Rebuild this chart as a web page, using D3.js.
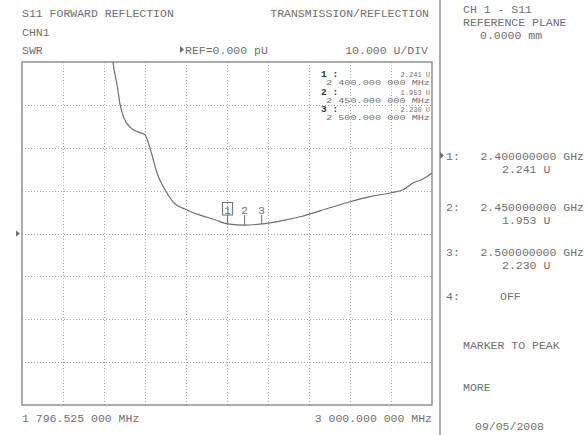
<!DOCTYPE html>
<html><head><meta charset="utf-8">
<script src="https://cdn.jsdelivr.net/npm/d3@7"></script>
<style>
html,body{margin:0;padding:0;background:#fff;}
svg{display:block;}
text{font-family:"Liberation Mono","DejaVu Sans Mono",monospace;fill:#707070;}
</style></head>
<body>
<svg id="c" width="586" height="435"></svg>
<script>
// ---- data ----
const freqStart = 1796.525;          // MHz
const freqStop = 3000.0;             // MHz
const refValue = 0;                  // U (reference line)
const unitsPerDiv = 10;              // U/DIV
const traceFreq = [2057.8, 2063.6, 2075.4, 2084.2, 2095.9, 2113.5, 2137.0, 2157.6, 2166.4, 2178.1,
  2192.8, 2216.3, 2239.8, 2280.9, 2319.0, 2363.1, 2400.0, 2450.0, 2500.0, 2553.8,
  2612.5, 2700.6, 2759.3, 2818.0, 2879.6, 2914.8, 2944.2, 2973.5, 3000.0];
const traceSWR = [45.1, 40.0, 34.7, 30.2, 26.9, 24.8, 23.7, 23.0, 21.4, 18.3,
  14.1, 10.2, 7.4, 5.5, 4.3, 3.2, 2.241, 1.953, 2.230, 2.9,
  3.9, 6.0, 7.4, 8.6, 9.5, 10.2, 11.8, 12.7, 14.1];
const markerNums = [1, 2, 3];
const markerFreq = [2400, 2450, 2500];
const markerVal = [2.241, 1.953, 2.230];
const markerFreqLabels = ["2 400.000 000 MHz", "2 450.000 000 MHz", "2 500.000 000 MHz"];
const markerGHzLabels = ["2.400000000 GHz", "2.450000000 GHz", "2.500000000 GHz"];
const markerValLabels = ["2.241 U", "1.953 U", "2.230 U"];

// ---- layout ----
const svg = d3.select("#c");
const L = 22, R = 432, T = 62, B = 405;
const x = d3.scaleLinear().domain([freqStart, freqStop]).range([L, R]);
const y = d3.scaleLinear().domain([refValue - 4 * unitsPerDiv, refValue + 4 * unitsPerDiv]).range([B, T]);

const gridX = d3.range(1, 10).map(i => freqStart + i * (freqStop - freqStart) / 10);
const gridY = d3.range(-3, 4).map(i => refValue + i * unitsPerDiv);

const grid = svg.append("g").attr("stroke", "#a9a9a9").attr("stroke-width", 1).attr("stroke-dasharray", "1,2");
grid.selectAll("line.v").data(gridX).join("line").attr("class", "v")
  .attr("x1", d => Math.round(x(d)) + 0.5).attr("x2", d => Math.round(x(d)) + 0.5).attr("y1", T).attr("y2", B);
grid.selectAll("line.h").data(gridY).join("line").attr("class", "h")
  .attr("x1", L).attr("x2", R).attr("y1", d => Math.round(y(d)) + 0.5).attr("y2", d => Math.round(y(d)) + 0.5);

// plot border
svg.append("rect").attr("x", L).attr("y", T).attr("width", R - L).attr("height", B - T)
  .attr("fill", "none").attr("stroke", "#8a8a8a").attr("stroke-width", 1.4);

// divider
svg.append("line").attr("x1", 440).attr("x2", 440).attr("y1", 0).attr("y2", 435)
  .attr("stroke", "#9a9a9a").attr("stroke-width", 1.6);

// trace
svg.append("clipPath").attr("id", "clip").append("rect").attr("x", L).attr("y", T).attr("width", R - L).attr("height", B - T);
const pts = traceFreq.map((f, i) => [f, traceSWR[i]]);
const line = d3.line().x(d => x(d[0])).y(d => y(d[1])).curve(d3.curveMonotoneX);
svg.append("path").attr("d", line(pts)).attr("clip-path", "url(#clip)")
  .attr("fill", "none").attr("stroke", "#6e6e6e").attr("stroke-width", 1.2);

// markers on trace
const mk = svg.append("g");
markerNums.forEach((n, i) => {
  const mx = x(markerFreq[i]), my = y(markerVal[i]);
  mk.append("line").attr("x1", mx).attr("x2", mx).attr("y1", 215).attr("y2", my)
    .attr("stroke", "#6e6e6e").attr("stroke-width", 1);
  mk.append("text").attr("x", mx).attr("y", 213.5).attr("text-anchor", "middle")
    .attr("font-size", 11).text(n);
  if (i === 0) {
    mk.append("rect").attr("x", mx - 5).attr("y", 202.5).attr("width", 10).attr("height", 12.5)
      .attr("fill", "none").attr("stroke", "#6e6e6e").attr("stroke-width", 1);
  }
});

// reference arrow on left
const ry = y(refValue);
svg.append("path").attr("d", `M16,${ry - 3}L20,${ry}L16,${ry + 3}Z`).attr("fill", "#6e6e6e");

// header texts
const t = (txt, tx, ty, size, anchor, extra) => {
  const e = svg.append("text").attr("x", tx).attr("y", ty).attr("font-size", size)
    .attr("text-anchor", anchor || "start").text(txt);
  if (extra) extra(e);
  return e;
};
t("S11 FORWARD REFLECTION", 22, 17, 11.5);
t("CHN1", 22, 35.5, 11.5);
t("SWR", 22, 54, 11.5);
t("TRANSMISSION/REFLECTION", 429, 17, 11.5, "end");
svg.append("path").attr("d", "M180,46L184,49.5L180,53Z").attr("fill", "#6e6e6e");
t("REF=0.000 pU", 185, 54, 11.5);
t("10.000 U/DIV", 428, 54, 11.5, "end");

// bottom labels
t("1 796.525 000 MHz", 22, 422, 11.5);
t("3 000.000 000 MHz", 432, 422, 11.5, "end");

// marker readout inside plot
const mb = [77.5, 95, 112.5];
markerNums.forEach((n, i) => {
  t(n + " :", 321, mb[i] - 0.5, 9.5, "start", e => e.attr("font-weight", "bold").style("fill", "#333"));
  t(markerValLabels[i], 430, mb[i] - 0.5, 7, "end");
  t(markerFreqLabels[i], 430, mb[i] + 7.5, 7, "end",
    e => e.attr("textLength", 104).attr("lengthAdjust", "spacingAndGlyphs"));
});

// right panel
t("CH 1 - S11", 463, 13, 11.5);
t("REFERENCE PLANE", 463, 25.5, 11.5);
t("0.0000 mm", 480, 39, 11.5);
const rb = [160, 211, 256];
svg.append("path").attr("d", `M440,${rb[0] - 8}L444,${rb[0] - 4.5}L440,${rb[0] - 1}Z`).attr("fill", "#6e6e6e");
markerNums.forEach((n, i) => {
  t(n + ":", 446, rb[i], 11.5);
  t(markerGHzLabels[i], 584, rb[i], 11.5, "end");
  t(markerValLabels[i], 502, rb[i] + 13, 11.5, "start");
});
t("4:", 446, 300, 11.5);
t("OFF", 500, 300, 11.5);
t("MARKER TO PEAK", 463, 349, 11.5);
t("MORE", 463, 391, 11.5);
t("09/05/2008", 475, 430, 11.5);
</script>
</body></html>
